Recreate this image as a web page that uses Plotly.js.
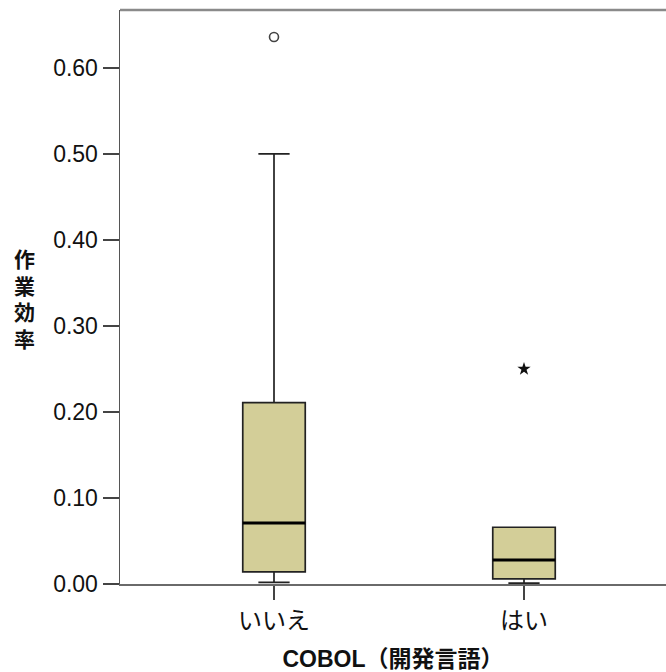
<!DOCTYPE html>
<html>
<head>
<meta charset="utf-8">
<script src="https://cdn.plot.ly/plotly-3.0.1.min.js"></script>
<style>
html,body{margin:0;padding:0;background:#fff;}
#chart{width:666px;height:672px;}
</style>
</head>
<body>
<div id="chart"></div>
<script>
// Data
const categories = ['いいえ', 'はい'];
const lowerWhisker = [0.002, 0.001];
const q1 = [0.014, 0.006];
const median = [0.071, 0.028];
const q3 = [0.211, 0.066];
const upperWhisker = [0.500, 0.066];
// outliers (circle) and extremes (star)
const outlierCat = ['いいえ'];
const outlierVal = [0.636];
const extremeCat = ['はい'];
const extremeVal = [0.250];

const yTicks = [0, 0.1, 0.2, 0.3, 0.4, 0.5, 0.6];
const yTickText = ['0.00', '0.10', '0.20', '0.30', '0.40', '0.50', '0.60'];
const yTitleChars = ['作', '業', '効', '率'];

const FONT = 'Liberation Sans, Arial, Noto Sans CJK JP, sans-serif';
const boxWidth = 0.25;

const traces = [
  {
    type: 'box',
    x: categories,
    q1: q1,
    median: median,
    q3: q3,
    lowerfence: lowerWhisker,
    upperfence: upperWhisker,
    width: boxWidth,
    whiskerwidth: 0.5,
    fillcolor: 'rgb(211,206,152)',
    line: {color: '#222', width: 1.7},
    boxpoints: false,
    hoverinfo: 'skip',
    showlegend: false
  },
  {
    type: 'scatter',
    mode: 'markers',
    x: outlierCat,
    y: outlierVal,
    marker: {symbol: 'circle-open', size: 9, color: '#444', line: {width: 1.6, color: '#444'}},
    hoverinfo: 'skip',
    showlegend: false
  },
  {
    type: 'scatter',
    mode: 'markers',
    x: extremeCat,
    y: extremeVal,
    marker: {symbol: 'star', size: 10, color: '#111'},
    hoverinfo: 'skip',
    showlegend: false
  }
];

// thicker median lines drawn in data coordinates
const shapes = categories.map((c, i) => ({
  type: 'line', xref: 'x', yref: 'y',
  x0: i - boxWidth / 2, x1: i + boxWidth / 2,
  y0: median[i], y1: median[i],
  line: {color: '#000', width: 3}
}));
// top frame line
shapes.push({
  type: 'line', xref: 'paper', yref: 'paper',
  x0: 0, x1: 1, y0: 1, y1: 1,
  line: {color: '#8a8a8a', width: 2.5}
});

// vertical stacked y-axis title, one character per annotation
const titleTop = 0.568, titleStep = 0.0465;
const annotations = yTitleChars.map((ch, i) => ({
  text: '<b>' + ch + '</b>',
  xref: 'paper', yref: 'paper',
  x: -0.174, y: titleTop - i * titleStep,
  xanchor: 'center', yanchor: 'middle',
  height: 24,
  borderpad: 0,
  showarrow: false,
  font: {size: 21, family: 'Noto Sans CJK JP, sans-serif', color: '#111'}
}));

const layout = {
  width: 666,
  height: 672,
  margin: {l: 120, r: 0, t: 10, b: 88},
  paper_bgcolor: '#fff',
  plot_bgcolor: '#fff',
  font: {family: FONT, color: '#111'},
  xaxis: {
    type: 'category',
    range: [-0.616, 1.568],
    showgrid: false,
    zeroline: false,
    showline: true,
    linecolor: '#6a6a6a',
    linewidth: 2,
    ticks: 'outside',
    ticklen: 14,
    tickwidth: 1.5,
    tickcolor: '#444',
    tickfont: {size: 24, family: 'Noto Sans CJK JP, sans-serif', color: '#111'},
    title: {
      text: '<b>COBOL（開発言語）</b>',
      font: {size: 23, family: FONT, color: '#111'},
      standoff: 16
    }
  },
  yaxis: {
    range: [0, 0.6674],
    tickvals: yTicks,
    ticktext: yTickText,
    showgrid: false,
    zeroline: false,
    showline: true,
    linecolor: '#555',
    linewidth: 1.5,
    ticks: 'outside',
    ticklen: 16,
    tickwidth: 1.5,
    tickcolor: '#444',
    tickfont: {size: 23, family: FONT, color: '#111'}
  },
  shapes: shapes,
  annotations: annotations,
  showlegend: false
};

Plotly.newPlot('chart', traces, layout, {staticPlot: true, displayModeBar: false});
</script>
</body>
</html>
